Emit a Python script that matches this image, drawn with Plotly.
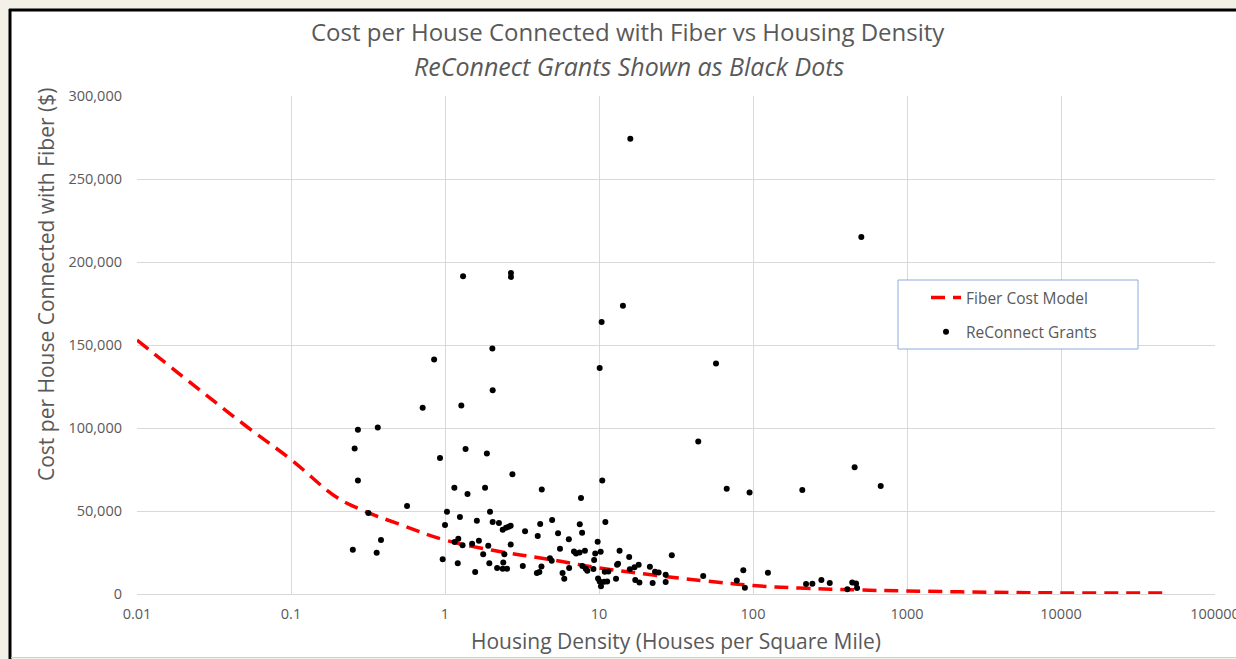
import plotly.graph_objects as go

# ---------------- data ----------------
model_density = [0.01, 0.02, 0.05, 0.1, 0.2, 0.3, 0.5, 1, 2, 5, 10, 20, 50, 100, 200, 500, 1000, 5000, 10000, 50000]
model_cost = [153000, 130700, 101800, 81000, 58000, 50000, 42200, 32500, 26500, 20500, 15700, 12000, 7800, 5100, 3600, 2400, 1800, 900, 650, 600]

grant_density = [
    15.97, 505, 1.31, 2.68, 2.68, 14.3, 10.4, 0.85, 2.03, 10.1, 57.5, 2.04, 0.716, 1.276,
    0.272, 0.366, 0.259, 1.36, 1.87, 0.928, 44.1, 0.272, 10.5, 2.74, 1.15, 1.82, 1.40,
    4.25, 67.5, 95, 209, 457, 675, 7.64, 0.567, 0.318, 1.03, 1.96,
    1.0, 1.25, 1.61, 2.04, 2.24, 2.37, 2.49, 2.59, 2.67, 3.31, 4.15, 4.96, 4.0, 5.42,
    6.37, 7.5, 7.77, 9.8, 11.0, 0.384, 0.252, 0.36, 1.155, 1.22, 1.30, 1.50, 1.66, 1.91,
    1.77, 0.966, 1.21, 1.57, 1.94, 2.18, 2.37, 2.53, 2.39, 2.43, 2.67, 3.2, 3.95, 4.1,
    4.23, 4.8, 4.93, 5.58, 5.8, 5.95, 6.4, 6.88, 7.1, 7.48, 8.1, 7.8, 8.2, 8.4, 9.2, 9.3,
    9.45, 10.25, 9.86, 10.1, 10.3, 10.8, 11.3, 10.9, 11.5, 12.9, 13.1, 13.3, 13.6, 15.7,
    15.85, 17.0, 18.1, 17.2, 18.3, 21.4, 22.3, 23.1, 24.4, 27.1, 27.1, 29.7, 47.5, 78.5,
    86.5, 88.6, 125, 221, 243, 278, 315, 410, 441, 467, 474,
]
grant_cost = [
    274300, 215100, 191400, 193400, 191000, 173600, 163900, 141300, 147900, 136100, 138800, 122800, 112200, 113600,
    98900, 100300, 87700, 87300, 84700, 81900, 91800, 68400, 68400, 72200, 64000, 64000, 60200,
    62900, 63400, 61100, 62600, 76300, 65000, 57900, 53000, 48800, 49600, 49600,
    41500, 46400, 44100, 43400, 42800, 38700, 39900, 40500, 41100, 37800, 42200, 44600, 34900, 36600,
    33000, 42000, 36900, 31500, 43400, 32500, 26700, 24900, 31400, 33300, 29300, 30300, 32100, 29000,
    24000, 20900, 18500, 13200, 18500, 15600, 15200, 15200, 19000, 24000, 29800, 16900, 12600, 13300,
    16500, 21600, 20000, 27200, 12600, 9200, 15700, 25600, 24400, 25000, 26100, 16900, 15200, 14000, 15000, 20500,
    24400, 25500, 9400, 7600, 4600, 7400, 7600, 13400, 13500, 9200, 17600, 18200, 26100, 22300,
    14900, 16100, 17600, 8500, 7000, 16400, 6700, 13400, 12900, 11600, 7300, 23300, 10900, 8100,
    14300, 3700, 12800, 6000, 6200, 8400, 6600, 2800, 7000, 6400, 3600,
]

x_tick_vals = [0.01, 0.1, 1, 10, 100, 1000, 10000, 100000]
x_tick_text = ["0.01", "0.1", "1", "10", "100", "1000", "10000", "100000"]
y_tick_vals = [0, 50000, 100000, 150000, 200000, 250000, 300000]

title_main = "Cost per House Connected with Fiber vs Housing Density"
title_sub = "ReConnect Grants Shown as Black Dots"
x_title = "Housing Density (Houses per Square Mile)"
y_title = "Cost per House Connected with Fiber ($)"

# ---------------- layout helpers ----------------
W, H = 1236, 659
L, R, T, B = 137, 1215, 96, 594
PW, PH = R - L, B - T


def px(xp):
    return (xp - L) / PW


def py(yp):
    return (B - yp) / PH


FONT = "Open Sans"
GREY = "#595959"

fig = go.Figure()
fig.add_trace(go.Scatter(
    x=model_density, y=model_cost, mode="lines", name="Fiber Cost Model",
    line=dict(color="#ff0000", width=3.5, dash="14px,8px", shape="spline", smoothing=1.2),
    legendgroup="a",
))
fig.add_trace(go.Scatter(
    x=grant_density, y=grant_cost, mode="markers", name="ReConnect Grants",
    marker=dict(color="#000000", size=6, line=dict(width=0)),
    legendgroup="b",
))

shapes = [
    dict(type="rect", xref="paper", yref="paper", x0=px(10), x1=px(1300), y0=py(657), y1=py(10),
         fillcolor="white", line=dict(width=0), layer="below"),
    dict(type="line", xref="paper", yref="paper", x0=px(10), x1=px(10), y0=py(662), y1=py(9),
         line=dict(color="black", width=3), layer="above"),
    dict(type="line", xref="paper", yref="paper", x0=px(9), x1=px(1300), y0=py(10), y1=py(10),
         line=dict(color="black", width=3), layer="above"),
    dict(type="line", xref="paper", yref="paper", x0=px(11), x1=px(1300), y0=py(657.5), y1=py(657.5),
         line=dict(color="#d0d0d0", width=1), layer="above"),
    dict(type="rect", xref="paper", yref="paper", x0=px(898), x1=px(1138), y0=py(349), y1=py(280),
         fillcolor="white", line=dict(color="#8eaadb", width=1), layer="above"),
]

annotations = [
    dict(text=title_main, xref="paper", yref="paper", x=px(628), y=py(32), showarrow=False,
         xanchor="center", yanchor="middle", font=dict(family=FONT, size=24, color=GREY)),
    dict(text="<i>" + title_sub + "</i>", xref="paper", yref="paper", x=px(629), y=py(66), showarrow=False,
         xanchor="center", yanchor="middle", font=dict(family=FONT, size=25, color=GREY)),
    dict(text=x_title, xref="paper", yref="paper", x=px(676), y=py(641), showarrow=False,
         xanchor="center", yanchor="middle", font=dict(family=FONT, size=21, color=GREY)),
    dict(text=y_title, xref="paper", yref="paper", x=px(46), y=py(285), showarrow=False,
         xanchor="center", yanchor="middle", textangle=-90, font=dict(family=FONT, size=21, color=GREY)),
]

fig.update_layout(
    width=W, height=H,
    margin=dict(l=L, r=W - R, t=T, b=H - B, pad=0, autoexpand=False),
    paper_bgcolor="#f3f0e8",
    plot_bgcolor="white",
    font=dict(family=FONT, color=GREY, size=14.5),
    shapes=shapes,
    annotations=annotations,
    showlegend=True,
    legend=dict(
        x=px(926), y=py(281), xanchor="left", yanchor="top",
        bgcolor="rgba(0,0,0,0)", borderwidth=0,
        font=dict(family=FONT, size=15.5, color=GREY),
        tracegroupgap=11,
    ),
)

fig.update_xaxes(
    type="log", range=[-2, 5], tickvals=x_tick_vals, ticktext=x_tick_text,
    showgrid=True, gridcolor="#d9d9d9", gridwidth=1,
    showline=False, zeroline=False, ticks="", ticklabelstandoff=9,
    ticklabeloverflow="allow", automargin=False,
    tickfont=dict(family=FONT, size=14.5, color=GREY),
)
fig.update_yaxes(
    range=[0, 300000], tickvals=y_tick_vals, tickformat=",",
    showgrid=True, gridcolor="#d9d9d9", gridwidth=1,
    showline=False, zeroline=True, zerolinecolor="#d9d9d9", zerolinewidth=1, ticks="",
    ticklabelstandoff=14, automargin=False,
    tickfont=dict(family=FONT, size=14.5, color=GREY),
)

fig.write_html(
    "out.html",
    config={"displayModeBar": False},
    post_script="document.documentElement.style.overflow='hidden';document.body.style.margin='0';document.body.style.overflow='hidden';",
)
